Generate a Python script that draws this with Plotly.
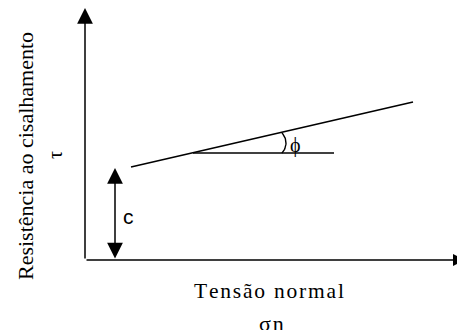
import numpy as np
import plotly.graph_objects as go

# schematic values (origin at the axes crossing, 1 unit ~ 1 px)
sigma_axis_end = 380
tau_axis_end = 252
envelope_sigma = [46, 328]
envelope_tau = [93, 158]
cohesion_sigma = 30
cohesion = 92
ref_sigma = [108, 249]
ref_tau = [107, 107]
phi_arc_center = (186.5, 117)
phi_arc_radius = 14.5

serif = "Liberation Serif"
sans = "Liberation Sans"
hs = "\u200a"  # hair space for the spaced-out labels

fig = go.Figure()

fig.add_trace(go.Scatter(
    x=envelope_sigma, y=envelope_tau, mode="lines",
    line=dict(color="black", width=1.6), hoverinfo="skip"
))
fig.add_trace(go.Scatter(
    x=ref_sigma, y=ref_tau, mode="lines",
    line=dict(color="black", width=1.6), hoverinfo="skip"
))

# angle arc for phi
t = np.radians(np.linspace(-44, 44, 30))
fig.add_trace(go.Scatter(
    x=phi_arc_center[0] + phi_arc_radius * np.cos(t),
    y=phi_arc_center[1] + phi_arc_radius * np.sin(t),
    mode="lines", line=dict(color="black", width=1.4), hoverinfo="skip"
))

arrow = dict(
    showarrow=True, text="", xref="x", yref="y", axref="x", ayref="y",
    arrowhead=2, arrowsize=2.1, arrowwidth=1.5, arrowcolor="black", standoff=0
)

annotations = [
    dict(x=0, y=tau_axis_end, ax=0, ay=0, **arrow),
    dict(x=sigma_axis_end, y=0, ax=0, ay=0, **{**arrow, "arrowsize": 1.6}),
    dict(x=cohesion_sigma, y=cohesion, ax=cohesion_sigma, ay=0,
         arrowside="end+start", **arrow),
    dict(x=-60, y=104, text="Resistência ao cisalhamento", textangle=-90,
         showarrow=False, font=dict(family=serif, size=22, color="black")),
    dict(x=-30, y=105, text="τ", textangle=-90, showarrow=False,
         font=dict(family=serif, size=20, color="black")),
    dict(x=43, y=44, text="c", showarrow=False,
         font=dict(family=sans, size=21, color="black")),
    dict(x=210, y=115, text="ϕ", showarrow=False,
         font=dict(family=serif, size=20, color="black")),
    dict(x=184, y=-31, text=hs.join("Tensão normal"), showarrow=False,
         font=dict(family=serif, size=21.5, color="black")),
    dict(x=186, y=-63, text=hs.join("σn"), showarrow=False,
         font=dict(family=serif, size=22, color="black")),
]

fig.update_layout(
    width=457, height=322,
    margin=dict(l=0, r=0, t=0, b=0),
    paper_bgcolor="white", plot_bgcolor="white",
    showlegend=False,
    xaxis=dict(range=[-77, 380], visible=False, fixedrange=True),
    yaxis=dict(range=[-70, 252], visible=False, fixedrange=True),
    annotations=annotations,
)

fig.write_html("out.html")
